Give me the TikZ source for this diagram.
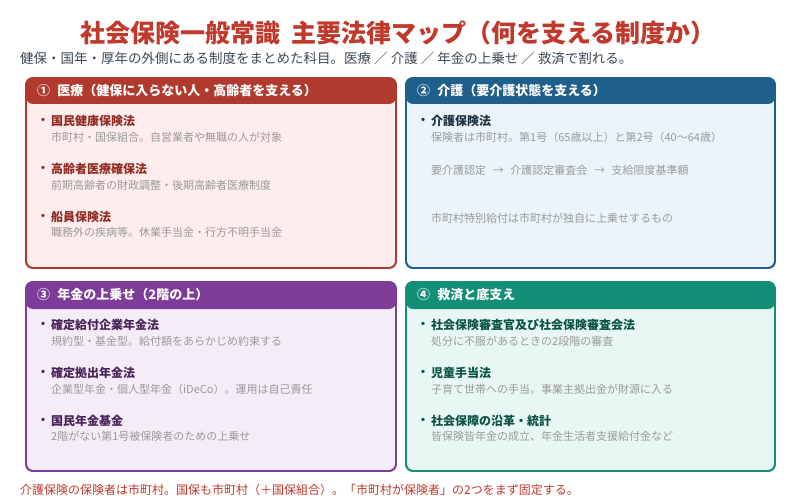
\documentclass[tikz,border=0pt]{standalone}
\usepackage{fontspec}
\setmainfont{Noto Sans CJK JP}
\definecolor{titlered}{HTML}{C0392B}
\definecolor{subdark}{HTML}{3D4A56}
\definecolor{subgray}{HTML}{9A9A9A}
\definecolor{redc}{HTML}{B03A2E}
\definecolor{redf}{HTML}{FDEDEC}
\definecolor{redt}{HTML}{922B21}
\definecolor{bluec}{HTML}{1F5F8B}
\definecolor{bluef}{HTML}{EBF4FB}
\definecolor{bluet}{HTML}{1B2F3F}
\definecolor{purc}{HTML}{7D3C98}
\definecolor{purf}{HTML}{F4ECF7}
\definecolor{purt}{HTML}{4A235A}
\definecolor{grnc}{HTML}{148F77}
\definecolor{grnf}{HTML}{E8F7F4}
\definecolor{grnt}{HTML}{0B5345}
\begin{document}
\begin{tikzpicture}[x=1pt,y=-1pt,
  panel/.style={rounded corners=7pt, line width=1.7pt},
  hdrbar/.style={rounded corners=7pt},
  hdr/.style={anchor=west, text=white, font=\fontsize{13}{13}\selectfont\bfseries, inner sep=0pt},
  itm/.style={anchor=west, font=\fontsize{12}{12}\selectfont\bfseries, inner sep=0pt},
  subt/.style={anchor=west, text=subgray, font=\fontsize{11}{11}\selectfont, inner sep=0pt},
  bul/.style={font=\fontsize{12}{12}\selectfont\bfseries, inner sep=0pt}]
\useasboundingbox (0,0) rectangle (800,500);
\fill[white] (0,0) rectangle (800,500);

% title and subtitle
\node[text=titlered, font=\fontsize{25}{25}\selectfont\bfseries, inner sep=0pt] (title) at (398,33) {社会保険一般常識\ \ 主要法律マップ（何を支える制度か）};
\node[anchor=west, text=subdark, font=\fontsize{13.5}{13.5}\selectfont, inner sep=0pt] (subtitle) at (20,58) {健保・国年・厚年の外側にある制度をまとめた科目。医療 ／ 介護 ／ 年金の上乗せ ／ 救済で割れる。};

% panel 1
\draw[panel, draw=redc, fill=redf] (26,78) rectangle (396,268);
\fill[hdrbar, redc] (26,78) rectangle (396,104);
\draw[panel, draw=redc] (26,78) rectangle (396,268);
\node[hdr] (h1) at (37,91) {①\hspace{0.55em}医療（健保に入らない人・高齢者を支える）};
\node[bul, text=redt] (b11) at (43,121) {・};
\node[itm, text=redt] (t11) at (51,121) {国民健康保険法};
\node[subt] (s11) at (51,137) {市町村・国保組合。自営業者や無職の人が対象};
\node[bul, text=redt] (b12) at (43,169) {・};
\node[itm, text=redt] (t12) at (51,169) {高齢者医療確保法};
\node[subt] (s12) at (51,185) {前期高齢者の財政調整・後期高齢者医療制度};
\node[bul, text=redt] (b13) at (43,217) {・};
\node[itm, text=redt] (t13) at (51,217) {船員保険法};
\node[subt] (s13) at (51,232) {職務外の疾病等。休業手当金・行方不明手当金};

% panel 2
\draw[panel, draw=bluec, fill=bluef] (406,78) rectangle (775,268);
\fill[hdrbar, bluec] (406,78) rectangle (775,104);
\draw[panel, draw=bluec] (406,78) rectangle (775,268);
\node[hdr] (h2) at (417,91) {②\hspace{0.55em}介護（要介護状態を支える）};
\node[bul, text=bluet] (b21) at (423,121) {・};
\node[itm, text=bluet] (t21) at (431,121) {介護保険法};
\node[subt] (s21) at (431,137) {保険者は市町村。第1号（65歳以上）と第2号（40～64歳）};
\node[subt] (s22) at (431,170) {要介護認定\hspace{0.6em}→\hspace{0.6em}介護認定審査会\hspace{0.6em}→\hspace{0.6em}支給限度基準額};
\node[subt] (s23) at (431,218) {市町村特別給付は市町村が独自に上乗せするもの};

% panel 3
\draw[panel, draw=purc, fill=purf] (26,282) rectangle (396,471);
\fill[hdrbar, purc] (26,282) rectangle (396,309);
\draw[panel, draw=purc] (26,282) rectangle (396,471);
\node[hdr] (h3) at (37,295) {③\hspace{0.55em}年金の上乗せ（2階の上）};
\node[bul, text=purt] (b31) at (43,325) {・};
\node[itm, text=purt] (t31) at (51,325) {確定給付企業年金法};
\node[subt] (s31) at (51,341) {規約型・基金型。給付額をあらかじめ約束する};
\node[bul, text=purt] (b32) at (43,373) {・};
\node[itm, text=purt] (t32) at (51,373) {確定拠出年金法};
\node[subt] (s32) at (51,389) {企業型年金・個人型年金（iDeCo）。運用は自己責任};
\node[bul, text=purt] (b33) at (43,421) {・};
\node[itm, text=purt] (t33) at (51,421) {国民年金基金};
\node[subt] (s33) at (51,436) {2階がない第1号被保険者のための上乗せ};

% panel 4
\draw[panel, draw=grnc, fill=grnf] (406,282) rectangle (775,471);
\fill[hdrbar, grnc] (406,282) rectangle (775,309);
\draw[panel, draw=grnc] (406,282) rectangle (775,471);
\node[hdr] (h4) at (417,295) {④\hspace{0.55em}救済と底支え};
\node[bul, text=grnt] (b41) at (423,325) {・};
\node[itm, text=grnt] (t41) at (431,325) {社会保険審査官及び社会保険審査会法};
\node[subt] (s41) at (431,341) {処分に不服があるときの2段階の審査};
\node[bul, text=grnt] (b42) at (423,373) {・};
\node[itm, text=grnt] (t42) at (431,373) {児童手当法};
\node[subt] (s42) at (431,389) {子育て世帯への手当。事業主拠出金が財源に入る};
\node[bul, text=grnt] (b43) at (423,421) {・};
\node[itm, text=grnt] (t43) at (431,421) {社会保障の沿革・統計};
\node[subt] (s43) at (431,436) {皆保険皆年金の成立、年金生活者支援給付金など};

% footer
\node[anchor=west, text=titlered, font=\fontsize{12}{12}\selectfont, inner sep=0pt] (footer) at (20,490) {介護保険の保険者は市町村。国保も市町村（＋国保組合）。「市町村が保険者」の2つをまず固定する。};
\end{tikzpicture}
\end{document}
